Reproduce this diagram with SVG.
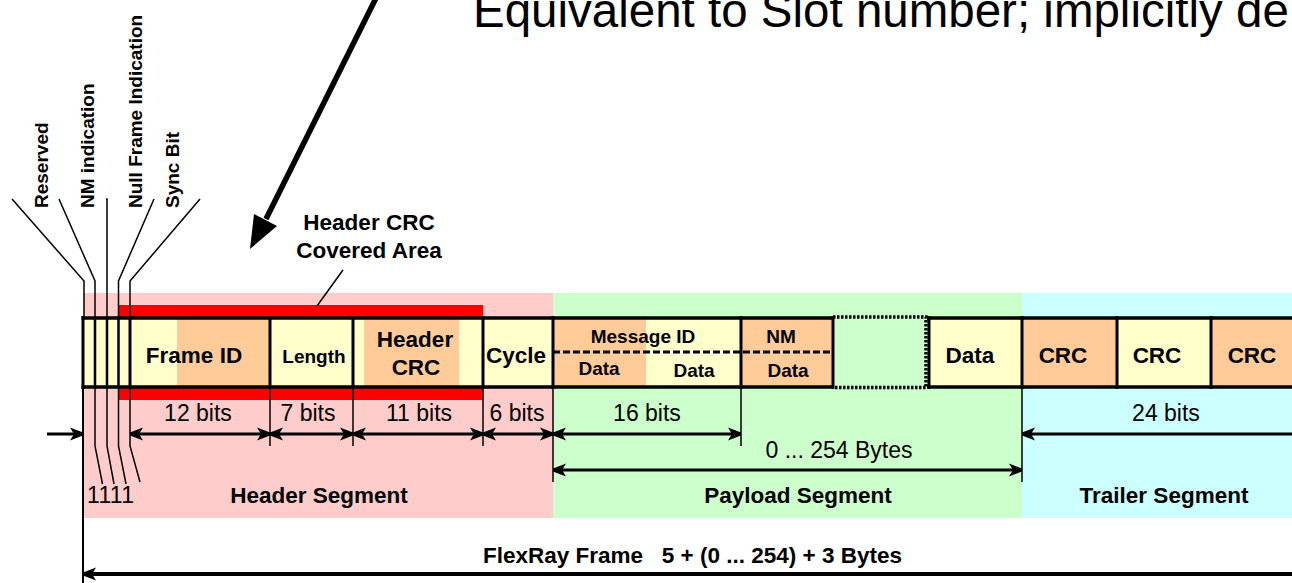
<svg xmlns="http://www.w3.org/2000/svg" width="1292" height="583" viewBox="0 0 1292 583">
  <style>
    text { font-family: "Liberation Sans", Arial, sans-serif; fill: #000; }
    .b { font-weight: bold; font-size: 22.5px; text-anchor: middle; }
    .s { font-weight: bold; font-size: 19px; text-anchor: middle; }
    .r { font-size: 23px; text-anchor: middle; }
    .v { font-weight: bold; font-size: 19px; }
    .yel { fill: #FFFFCC; }
    .org { fill: #FFCC99; }
    .edge { stroke: #000; stroke-width: 3.5; fill: none; }
    .div { stroke: #000; stroke-width: 3; }
    .thin { stroke: #000; stroke-width: 1.5; fill: none; }
    .dim { stroke: #000; stroke-width: 3; fill: none; marker-start: url(#ah); marker-end: url(#ah); }
  </style>
  <defs>
    <marker id="ah" viewBox="-14 -8 15 16" refX="0" refY="0" markerWidth="15" markerHeight="16" markerUnits="userSpaceOnUse" orient="auto-start-reverse">
      <path d="M0,-1.4 L-13,-6.5 L-9,0 L-13,6.5 L0,1.4 Z" fill="#000"/>
    </marker>
  </defs>

  <rect width="1292" height="583" fill="#FFFFFF"/>

  <!-- segment backgrounds -->
  <g id="segments">
    <rect x="83" y="293" width="470" height="225" fill="#FFCCCC"/>
    <rect x="553" y="293" width="469" height="225" fill="#CCFFCC"/>
    <rect x="1022" y="293" width="270" height="225" fill="#CCFFFF"/>
    <text class="b" x="319" y="503">Header Segment</text>
    <text class="b" x="798" y="503">Payload Segment</text>
    <text class="b" x="1164" y="503">Trailer Segment</text>
  </g>

  <!-- header CRC covered area -->
  <g id="crc-coverage">
    <rect x="118" y="305" width="365" height="13" fill="#FF0000"/>
    <rect x="118" y="387" width="365" height="13" fill="#FF0000"/>
    <text class="b" x="369" y="230">Header CRC</text>
    <text class="b" x="369" y="258">Covered Area</text>
  </g>

  <!-- frame fields -->
  <g id="indicator-bits">
    <rect class="yel" x="83" y="318" width="47" height="69"/>
  </g>
  <g id="frame-id">
    <rect class="yel" x="130" y="318" width="47" height="69"/>
    <rect class="org" x="177" y="318" width="93" height="69"/>
    <text class="b" x="194" y="363">Frame ID</text>
  </g>
  <g id="length">
    <rect class="yel" x="270" y="318" width="83" height="69"/>
    <text class="s" x="314" y="363">Length</text>
  </g>
  <g id="header-crc">
    <rect class="yel" x="353" y="318" width="130" height="69"/>
    <rect class="org" x="364" y="318" width="95" height="69"/>
    <text class="b" x="415" y="347">Header</text>
    <text class="b" x="416" y="375">CRC</text>
  </g>
  <g id="cycle">
    <rect class="yel" x="483" y="318" width="70" height="69"/>
    <text class="b" x="516" y="363">Cycle</text>
  </g>
  <g id="message-id">
    <rect class="org" x="553" y="318" width="93" height="69"/>
    <rect class="yel" x="646" y="318" width="95" height="69"/>
    <text class="s" x="643" y="343">Message ID</text>
    <text class="s" x="599" y="375">Data</text>
    <text class="s" x="694" y="377">Data</text>
  </g>
  <g id="nm">
    <rect class="org" x="741" y="318" width="92" height="69"/>
    <text class="s" x="781" y="343">NM</text>
    <text class="s" x="788" y="377">Data</text>
  </g>
  <g id="data-gap">
    <path d="M833,317 H926 V387.5 H833" fill="none" stroke="#000" stroke-width="3.5" stroke-dasharray="2.5 1.5"/>
  </g>
  <g id="data">
    <rect class="yel" x="929" y="318" width="93" height="69"/>
    <text class="b" x="970" y="363">Data</text>
  </g>
  <g id="crc-1">
    <rect class="org" x="1022" y="318" width="95" height="69"/>
    <text class="b" x="1063" y="363">CRC</text>
  </g>
  <g id="crc-2">
    <rect class="yel" x="1117" y="318" width="94" height="69"/>
    <text class="b" x="1157" y="363">CRC</text>
  </g>
  <g id="crc-3">
    <rect class="org" x="1211" y="318" width="81" height="69"/>
    <text class="b" x="1252" y="363">CRC</text>
  </g>

  <!-- frame outline and field dividers -->
  <g id="frame-outline">
    <path class="edge" d="M81.5,318 H833 M927,318 H1292 M81.5,387 H833 M927,387 H1292"/>
    <path class="div" d="M83,316 V389 M130,316 V389 M270,316 V389 M353,316 V389 M483,316 V389 M553,316 V389 M741,316 V389 M833,316 V389 M929,316 V389 M1022,316 V389 M1117,316 V389 M1211,316 V389"/>
    <path stroke="#000" stroke-width="2.5" d="M95,316 V389 M107,316 V389 M118.5,316 V389"/>
    <path d="M553,352 H833" stroke="#000" stroke-width="3" stroke-dasharray="7 3"/>
  </g>

  <!-- indicator bit labels -->
  <g id="bit-labels">
    <text class="v" transform="translate(48,208) rotate(-90)">Reserved</text>
    <text class="v" transform="translate(94,208) rotate(-90)">NM indication</text>
    <text class="v" transform="translate(142,208) rotate(-90)">Null Frame Indication</text>
    <text class="v" transform="translate(179,208) rotate(-90)">Sync Bit</text>
    <text font-size="23" letter-spacing="0.3" x="87" y="503">1111</text>
  </g>

  <!-- dimension texts -->
  <g id="sizes">
    <text class="r" x="198" y="421">12 bits</text>
    <text class="r" x="308" y="421">7 bits</text>
    <text class="r" x="419" y="421">11 bits</text>
    <text class="r" x="517" y="421">6 bits</text>
    <text class="r" x="647" y="421">16 bits</text>
    <text class="r" x="1166" y="421">24 bits</text>
    <text class="r" x="839" y="458">0 ... 254 Bytes</text>
    <text font-weight="bold" font-size="22.5" x="483" y="563" xml:space="preserve">FlexRay Frame   5 + (0 ... 254) + 3 Bytes</text>
  </g>

  <!-- slot number note -->
  <g id="slot-note">
    <text font-size="47.5" x="473" y="27">Equivalent to Slot number; implicitly de</text>
  </g>

  <g id="connectors">
    <!-- leader lines to the indicator bits -->
    <path class="thin" d="M12,199 L84,281 V317"/>
    <path class="thin" d="M59,199 L95,281 V317"/>
    <path class="thin" d="M106,199 L107,199 V317"/>
    <path class="thin" d="M154,199 L118.5,281 V317"/>
    <path class="thin" d="M200,199 L130,281 V317"/>
    <path class="thin" d="M95,388 V446 L102.5,484"/>
    <path class="thin" d="M107,388 V446 L114,484"/>
    <path class="thin" d="M118.5,388 V446 L126,484"/>
    <path class="thin" d="M130,388 V446 L140,482"/>
    <path d="M83,387 V583" stroke="#000" stroke-width="2"/>

    <!-- extension ticks -->
    <path class="thin" d="M270,388 V446 M353,388 V446 M483,388 V446 M553,388 V482 M741,388 V446 M1022,388 V482"/>

    <!-- dimension arrows -->
    <path d="M47,434 H83" stroke="#000" stroke-width="3" marker-end="url(#ah)"/>
    <path class="dim" d="M130,434 H270"/>
    <path class="dim" d="M270,434 H353"/>
    <path class="dim" d="M353,434 H483"/>
    <path class="dim" d="M483,434 H553"/>
    <path class="dim" d="M553,434 H741"/>
    <path d="M1022,434 H1300" stroke="#000" stroke-width="3" marker-start="url(#ah)"/>
    <path class="dim" d="M553,470 H1022"/>
    <path d="M83,574 H1300" stroke="#000" stroke-width="4" marker-start="url(#ah)"/>

    <!-- coverage callout -->
    <path class="thin" d="M343,270 L317,306"/>

    <!-- slot number pointer -->
    <path d="M381,-12 L266,219" stroke="#000" stroke-width="5.5" fill="none"/>
    <polygon points="250,249 254,214 277,226" fill="#000"/>
  </g>
</svg>
